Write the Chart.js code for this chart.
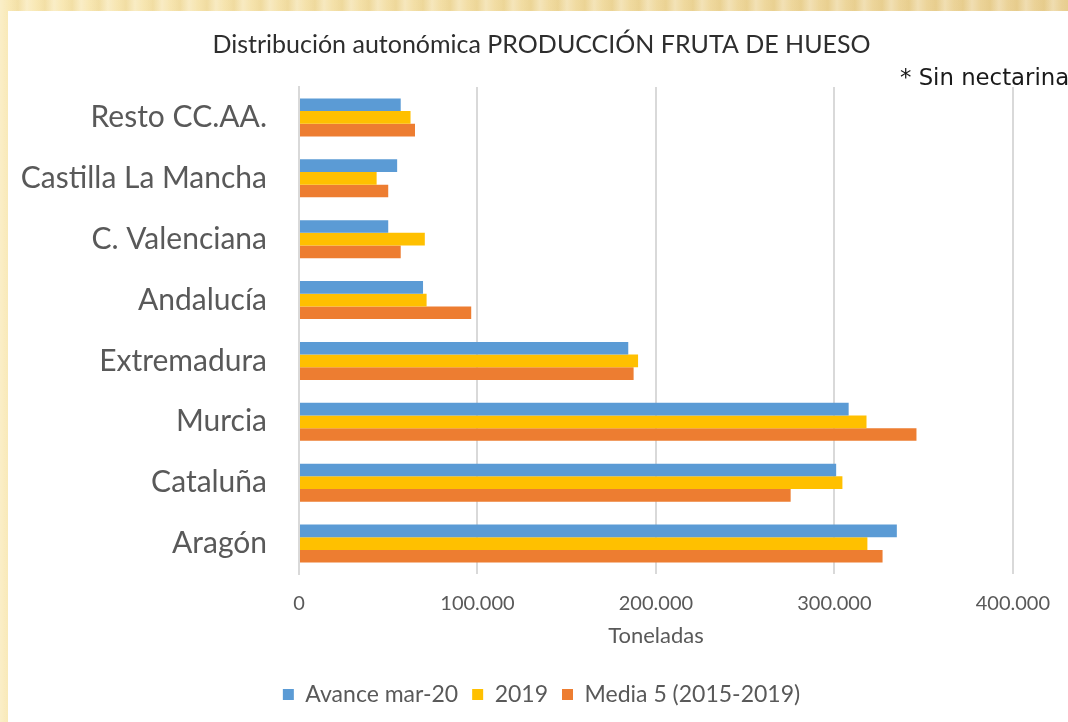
<!DOCTYPE html>
<html lang="es">
<head>
    <meta charset="UTF-8">
    <title>Distribución autonómica PRODUCCIÓN FRUTA DE HUESO</title>
    <script src="https://cdn.jsdelivr.net/npm/chart.js"></script>
    <style>
        html, body {
            margin: 0;
            padding: 0;
        }
        body {
            width: 1068px;
            height: 722px;
            overflow: hidden;
            position: relative;
            background:
                repeating-linear-gradient(90deg, rgba(255,255,255,0.25) 0px, rgba(255,255,255,0) 9px, rgba(200,160,60,0.12) 18px, rgba(255,255,255,0.25) 27px),
                linear-gradient(90deg, #f9e9b6, #f1dca2 50%, #ead196);
        }
        .panel {
            position: absolute;
            left: 8px;
            top: 11px;
            width: 1060px;
            height: 711px;
            background: #fff;
        }
        .nota {
            position: absolute;
            left: 892px;
            top: 53px;
            font-family: "DejaVu Sans", sans-serif;
            font-size: 22.8px;
            color: #1a1a1a;
            white-space: nowrap;
        }
    </style>
</head>
<body>
    <div class="panel">
        <canvas id="frutaChart" width="1060" height="711"></canvas>
        <div class="nota">* Sin nectarina</div>
    </div>

    <script>
        // datos (toneladas)
        const regiones = ['Resto CC.AA.', 'Castilla La Mancha', 'C. Valenciana', 'Andalucía',
                          'Extremadura', 'Murcia', 'Cataluña', 'Aragón'];
        const avanceMar20 = [57000, 55000, 50000, 69500, 184500, 308000, 301000, 335000];
        const datos2019 = [62500, 43500, 70500, 71500, 190000, 318000, 304500, 318500];
        const media5 = [65000, 50000, 57000, 96500, 187500, 346000, 275500, 327000];
        const ticksX = ['0', '100.000', '200.000', '300.000', '400.000'];

        const fuente = 'Lato, "Open Sans", sans-serif';
        const gris = '#595959';

        Chart.defaults.font.family = fuente;
        Chart.defaults.color = gris;

        var ctx = document.getElementById('frutaChart').getContext('2d');
        var frutaChart = new Chart(ctx, {
            type: 'bar',
            data: {
                labels: regiones,
                datasets: [{
                    label: 'Avance mar-20',
                    data: avanceMar20,
                    backgroundColor: '#5b9bd5'
                }, {
                    label: '2019',
                    data: datos2019,
                    backgroundColor: '#ffc000'
                }, {
                    label: 'Media 5 (2015-2019)',
                    data: media5,
                    backgroundColor: '#ed7d31'
                }]
            },
            options: {
                indexAxis: 'y',
                responsive: false,
                animation: false,
                categoryPercentage: 0.625,
                barPercentage: 1.0,
                layout: {
                    padding: { left: 7, right: 0, top: 0, bottom: 6 }
                },
                plugins: {
                    title: {
                        display: true,
                        text: 'Distribución autonómica PRODUCCIÓN FRUTA DE HUESO',
                        color: '#2e2e2e',
                        font: { size: 25, weight: 'normal' },
                        padding: { top: 19, bottom: 27 }
                    },
                    legend: {
                        position: 'bottom',
                        labels: {
                            boxWidth: 11,
                            boxHeight: 11,
                            padding: 14,
                            color: gris,
                            font: { size: 23 }
                        }
                    },
                    tooltip: { enabled: false }
                },
                scales: {
                    x: {
                        min: 0,
                        max: 400000,
                        ticks: {
                            stepSize: 100000,
                            padding: 18,
                            color: gris,
                            font: { size: 20 },
                            callback: function (value, index) {
                                return ticksX[index];
                            }
                        },
                        grid: {
                            color: '#d9d9d9',
                            lineWidth: 2,
                            drawTicks: false
                        },
                        border: { display: false },
                        title: {
                            display: true,
                            text: 'Toneladas',
                            color: gris,
                            font: { size: 22 },
                            padding: { top: 0, bottom: 20 }
                        },
                        afterFit: function (scale) {
                            scale.height = 95;
                        }
                    },
                    y: {
                        ticks: {
                            padding: 32,
                            color: gris,
                            font: { size: 30 }
                        },
                        grid: { display: false, drawTicks: false },
                        border: { display: true, color: '#d9d9d9', width: 2 },
                        afterFit: function (scale) {
                            scale.width = 284;
                        }
                    },
                    // eje vacío a la derecha: deja el margen derecho sin mover título ni leyenda
                    margenDerecho: {
                        type: 'category',
                        axis: 'y',
                        position: 'right',
                        ticks: { display: false },
                        grid: { display: false, drawTicks: false },
                        border: { display: false },
                        afterFit: function (scale) {
                            scale.width = 50;
                        }
                    }
                }
            }
        });
    </script>
</body>
</html>
